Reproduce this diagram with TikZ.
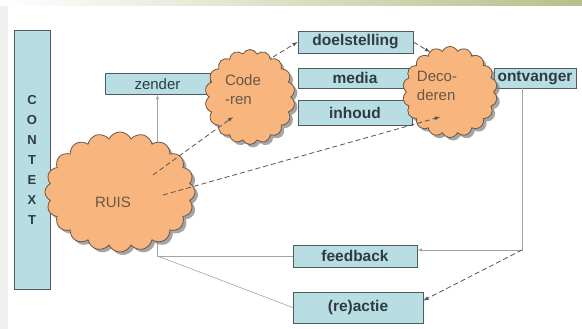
\documentclass[tikz,border=0pt]{standalone}
\usepackage{fontspec}
\setmainfont{Liberation Sans}
\usepackage{tikz}
\usetikzlibrary{shapes,shadows,arrows}

\definecolor{barblue}{HTML}{B8DEE4}
\definecolor{barline}{HTML}{4F5B5E}
\definecolor{bartext}{HTML}{2E3B42}
\definecolor{wolkfill}{HTML}{F8B67E}
\definecolor{wolkline}{HTML}{6E5442}
\definecolor{wolktext}{HTML}{6B5646}
\definecolor{lijngrijs}{HTML}{A4A4A4}
\definecolor{stippel}{HTML}{555555}
\definecolor{strook}{HTML}{B4C18A}

\begin{document}
\begin{tikzpicture}[x=1pt,y=-1pt,>=latex]
\tikzstyle{bar} = [draw=barline, fill=barblue, line width=0.7pt, inner sep=0pt, text=bartext, font=\fontsize{15.5}{17}\selectfont\bfseries];
\tikzstyle{wolk} = [cloud, cloud puffs=18, cloud puff arc=130, cloud ignores aspect, draw=wolkline, fill=wolkfill, line width=0.8pt, drop shadow={shadow xshift=3pt, shadow yshift=-3pt, fill=black!50, opacity=0.7}];
\tikzstyle{wolktekst} = [text=wolktext, align=left, font=\fontsize{15}{19}\selectfont];
\tikzstyle{grijs} = [draw=lijngrijs, line width=0.6pt];
\tikzstyle{stip} = [draw=stippel, line width=0.8pt, dash pattern=on 5pt off 3pt];
\useasboundingbox (0,0) rectangle (582,329);
\fill[white] (0,0) rectangle (582,329);
\shade[left color=white, right color=strook] (0,0) rectangle (582,6);
\fill[black!6] (0,6) rectangle (8,329);
\node[bar, minimum width=36pt, minimum height=259pt, align=center, font=\fontsize{13}{20}\selectfont\bfseries] (C) at (32,160) {C\\O\\N\\T\\E\\X\\T};
\node[bar, minimum width=105pt, minimum height=21pt, font=\fontsize{15}{17}\selectfont] (Z) at (157.5,84) {zender};
\node[bar, minimum width=115pt, minimum height=22pt] (D) at (355.5,42) {doelstelling};
\node[bar, minimum width=114pt, minimum height=20pt] (M) at (355,78) {media};
\node[bar, minimum width=114pt, minimum height=25pt] (I) at (355,112.5) {inhoud};
\node[bar, minimum width=82pt, minimum height=20pt] (O) at (535,78) {ontvanger};
\node[bar, minimum width=124pt, minimum height=22pt] (F) at (355,256) {feedback};
\node[bar, minimum width=130pt, minimum height=31pt] (R) at (358,307.5) {(re)actie};
\coordinate (k) at (522,250);
\coordinate (j) at (157.5,256);
\draw[grijs,->] (F.west) -- (j) -- (Z.south);
\draw[grijs] (R.west) -- (j);
\draw[grijs,->] (k |- O.south) -- (k) -- (k -| F.east);
\node[wolk, cloud puffs=20, minimum width=150pt, minimum height=120pt, label={[wolktekst, shift={(-7,10)}]center:RUIS}] (RU) at (120,192) {};
\node[wolk, minimum width=90pt, minimum height=95pt, label={[wolktekst, shift={(-7,-7)}]center:{Code\\-ren}}] (CR) at (250,97) {};
\node[wolk, minimum width=95pt, minimum height=91pt, label={[wolktekst, shift={(-13,-6)}]center:{Deco-\\deren}}] (DC) at (450,92) {};
\draw[stip,->] ([shift={(33,-17)}]RU.center) -- ([shift={(-17,20)}]CR.center);
\draw[stip,->] ([shift={(43,3)}]RU.center) -- ([shift={(-10,25)}]DC.center);
\draw[stip,->] ([shift={(23,-40)}]CR.center) -- (D.west);
\draw[stip,->] (D.east) -- ([shift={(-20,-40)}]DC.center);
\draw[stip,->] (k) -- ([shift={(0,-7)}]R.east);
\end{tikzpicture}
\end{document}
